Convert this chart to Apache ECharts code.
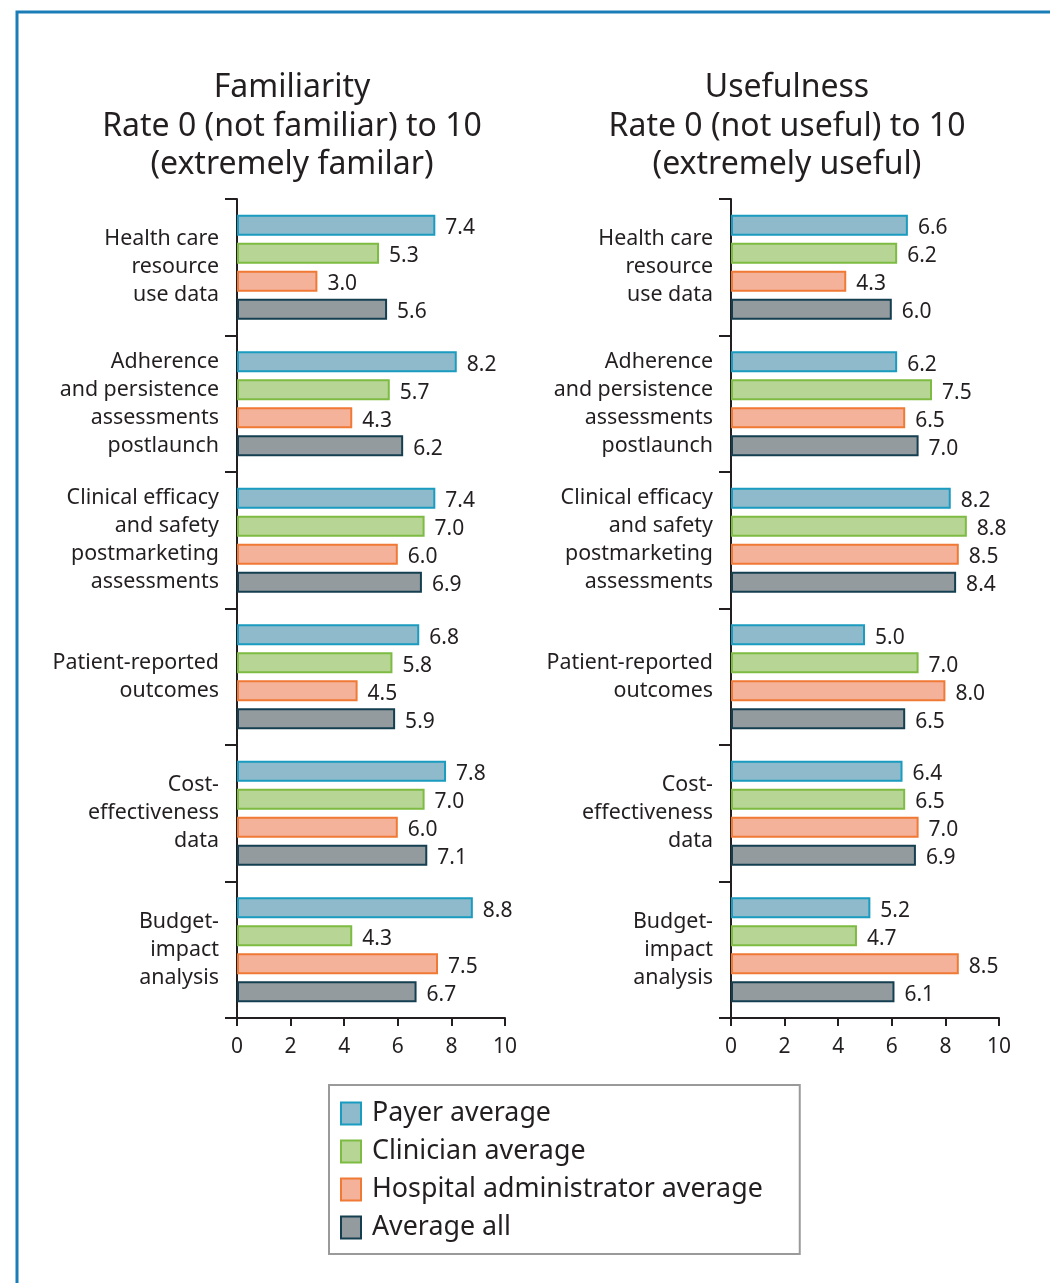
<!DOCTYPE html>
<html>
<head>
<meta charset="utf-8">
<script src="https://cdn.jsdelivr.net/npm/echarts@6/dist/echarts.min.js"></script>
<style>
  html, body { margin: 0; padding: 0; background: #ffffff; }
  #chart { width: 1050px; height: 1283px; }
</style>
</head>
<body>
<div id="chart"></div>
<script>
// Information types, top to bottom
const categories = [
  'Health care\nresource\nuse data',
  'Adherence\nand persistence\nassessments\npostlaunch',
  'Clinical efficacy\nand safety\npostmarketing\nassessments',
  'Patient-reported\noutcomes',
  'Cost-\neffectiveness\ndata',
  'Budget-\nimpact\nanalysis'
];

const groupNames = ['Payer average', 'Clinician average', 'Hospital administrator average', 'Average all'];

// Familiarity ratings (0-10)
const familiarityPayer = [7.4, 8.2, 7.4, 6.8, 7.8, 8.8];
const familiarityClinician = [5.3, 5.7, 7.0, 5.8, 7.0, 4.3];
const familiarityHospital = [3.0, 4.3, 6.0, 4.5, 6.0, 7.5];
const familiarityAll = [5.6, 6.2, 6.9, 5.9, 7.1, 6.7];

// Usefulness ratings (0-10)
const usefulnessPayer = [6.6, 6.2, 8.2, 5.0, 6.4, 5.2];
const usefulnessClinician = [6.2, 7.5, 8.8, 7.0, 6.5, 4.7];
const usefulnessHospital = [4.3, 6.5, 8.5, 8.0, 7.0, 8.5];
const usefulnessAll = [6.0, 7.0, 8.4, 6.5, 6.9, 6.1];

const xTicks = [0, 2, 4, 6, 8, 10];

const panelTitles = [
  'Familiarity\nRate 0 (not familiar) to 10\n(extremely familar)',
  'Usefulness\nRate 0 (not useful) to 10\n(extremely useful)'
];

const FONT = 'Noto Sans';
const INK = '#231f20';

const fills = ['#8fbacb', '#b7d696', '#f4b29b', '#949b9e'];
const borders = ['#1a9bc0', '#7dbb42', '#f07a35', '#143f50'];

const familiarity = [familiarityPayer, familiarityClinician, familiarityHospital, familiarityAll];
const usefulness = [usefulnessPayer, usefulnessClinician, usefulnessHospital, usefulnessAll];

function makeXAxis(gridIndex) {
  return {
    type: 'value',
    gridIndex: gridIndex,
    min: 0,
    max: 10,
    interval: 2,
    axisLine: { show: true, lineStyle: { color: INK, width: 2 } },
    axisTick: { show: true, length: 8, lineStyle: { color: INK, width: 2 } },
    splitLine: { show: false },
    axisLabel: {
      margin: 19,
      fontFamily: FONT,
      fontSize: 21,
      color: INK,
      formatter: function (v) { return xTicks.indexOf(v) >= 0 ? String(v) : ''; }
    }
  };
}

function makeYAxis(gridIndex) {
  return {
    type: 'category',
    gridIndex: gridIndex,
    data: categories,
    inverse: true,
    axisLine: { show: true, lineStyle: { color: INK, width: 2 } },
    axisTick: { show: true, length: 12, lineStyle: { color: INK, width: 2 } },
    axisLabel: {
      margin: 18,
      fontFamily: FONT,
      fontSize: 21.4,
      lineHeight: 28,
      color: INK,
      align: 'right'
    }
  };
}

function makeSeries(values, gridIndex) {
  return values.map(function (vals, i) {
    return {
      name: groupNames[i],
      type: 'bar',
      xAxisIndex: gridIndex,
      yAxisIndex: gridIndex,
      data: vals,
      barWidth: 21,
      barGap: '33%',
      itemStyle: { color: fills[i], borderColor: borders[i], borderWidth: 2 },
      label: {
        show: true,
        position: 'right',
        distance: 10,
        offset: [0, 3],
        fontFamily: FONT,
        fontSize: 21,
        color: INK,
        formatter: function (p) { return p.value.toFixed(1); }
      }
    };
  });
}

const chart = echarts.init(document.getElementById('chart'), null, { renderer: 'canvas' });

const titleStyle = { fontFamily: FONT, fontSize: 32, fontWeight: 'normal', lineHeight: 38.5, color: INK };

chart.setOption({
  animation: false,
  backgroundColor: '#ffffff',
  title: [
    { text: panelTitles[0], left: 287, top: 64, textAlign: 'center', textStyle: titleStyle },
    { text: panelTitles[1], left: 782, top: 64, textAlign: 'center', textStyle: titleStyle }
  ],
  graphic: [
    {
      type: 'rect',
      shape: { x: 17, y: 12, width: 1200, height: 1400 },
      style: { fill: 'none', stroke: '#1b7db6', lineWidth: 3 },
      silent: true,
      z: -1
    }
  ],
  legend: {
    data: groupNames,
    orient: 'vertical',
    left: 329,
    top: 1085,
    icon: 'rect',
    itemWidth: 20,
    itemHeight: 22,
    itemGap: 11,
    padding: [15, 37, 13, 11],
    borderColor: '#9a9a9a',
    borderWidth: 2,
    textStyle: { fontFamily: FONT, fontSize: 26.8, color: INK, padding: [0, 0, 0, 6] }
  },
  grid: [
    { left: 237, width: 268, top: 199, height: 819, containLabel: false },
    { left: 731, width: 268, top: 199, height: 819, containLabel: false }
  ],
  xAxis: [makeXAxis(0), makeXAxis(1)],
  yAxis: [makeYAxis(0), makeYAxis(1)],
  series: makeSeries(familiarity, 0).concat(makeSeries(usefulness, 1))
});
</script>
</body>
</html>
